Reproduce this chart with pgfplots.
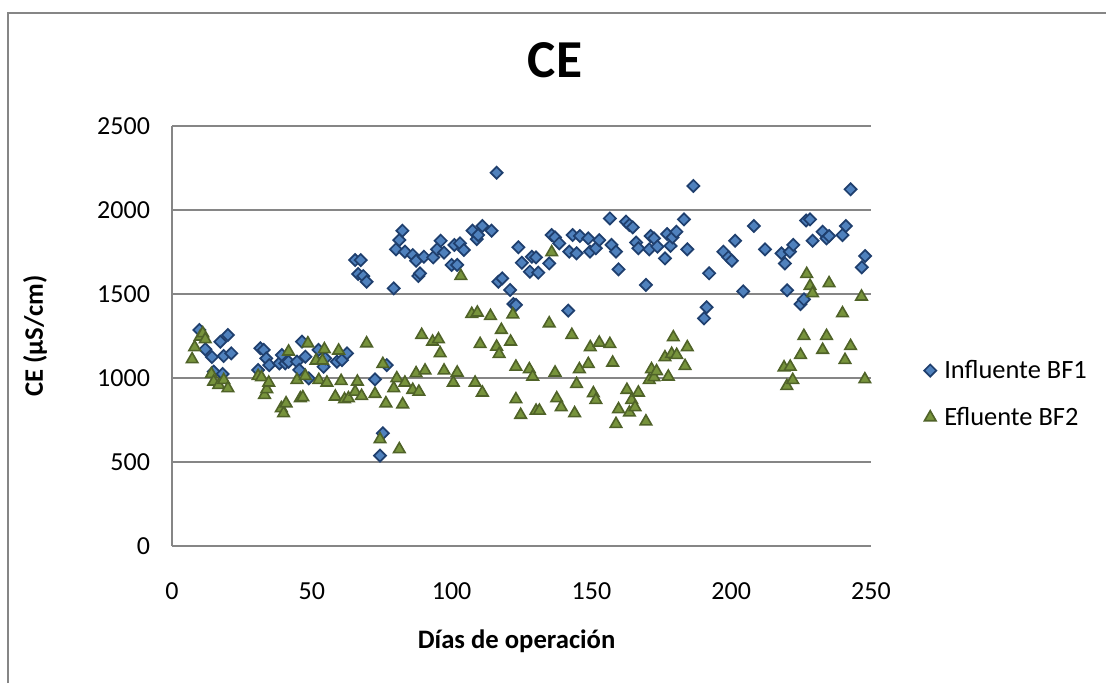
\documentclass[border=0pt]{standalone}
\usepackage{fontspec}
\setmainfont{Carlito}
\usepackage{pgfplots}
\pgfplotsset{compat=1.18}
\definecolor{bfill}{HTML}{4F81BD}
\definecolor{bdraw}{HTML}{1F3F6E}
\definecolor{gfill}{HTML}{77933C}
\definecolor{gdraw}{HTML}{4F6228}
\definecolor{gridc}{HTML}{868686}
\begin{document}
\begin{tikzpicture}[x=0.75pt,y=0.75pt]
\useasboundingbox (0,0) rectangle (1106,683);
\draw[gridc, line width=1.5pt] (8,0) -- (8,670) -- (1106,670);
\begin{axis}[
  at={(129pt,102.75pt)}, anchor=origin,
  scale only axis, width=524.25pt, height=315pt,
  xmin=0, xmax=250, ymin=0, ymax=2500,
  xtick={0,50,...,250}, ytick={0,500,...,2500},
  axis x line*=bottom, axis y line*=left,
  axis line style={gridc, line width=1.2pt},
  major tick length=0pt,
  ymajorgrids, grid style={gridc, line width=1.2pt},
  tick label style={font=\fontsize{19.5}{22}\selectfont},
  /pgf/number format/assume math mode=true,
  /pgf/number format/1000 sep={},
  xticklabel style={yshift=-24pt},
  yticklabel style={xshift=-13pt},
  title={\textbf{CE}}, title style={font=\fontsize{40}{44}\selectfont, at={(axis description cs:0.548,1.138)}, anchor=center},
  xlabel={\textbf{Días de operación}}, xlabel style={font=\fontsize{20}{24}\selectfont, at={(axis description cs:0.493,-0.226)}, anchor=center},
  ylabel={\textbf{CE (µS/cm)}}, ylabel style={font=\fontsize{20}{24}\selectfont, at={(axis description cs:-0.196,0.5)}, anchor=center, rotate=0},
  legend style={draw=none, at={(axis description cs:1.07,0.362)}, anchor=west, font=\fontsize{19.8}{22}\selectfont, row sep=16pt},
  legend cell align=left,
  clip=false,
]
\addplot[only marks, mark=square*, mark size=3.2pt, mark options={rotate=45, fill=bfill, draw=bdraw, line width=1.3pt}] coordinates {
(9.8,1286)(11.9,1171)(14.3,1125)(14.9,1038)(17.3,1216)(18.1,1024)(18.5,1131)(20,1256)(21.2,1147)
(30.8,1048)(31.6,1177)(32.8,1167)(33.7,1117)(34.8,1077)(38.4,1087)(39.3,1137)(40.5,1087)(41.7,1097)
(44.7,1097)(45.5,1048)(46.5,1216)(47.7,1127)(48.9,998)(52.4,1167)(54.2,1067)(54.8,1117)(59,1097)
(60.8,1107)(62.6,1147)(65.5,1702)(66.6,1619)(67.5,1702)(68.4,1607)(69.6,1573)(72.6,992)(74.4,538)
(75.4,671)(76.8,1077)(79.3,1534)(80.1,1766)(81.3,1821)(82.4,1877)(83.3,1752)(86.1,1732)(87.3,1698)
(88.1,1607)(88.7,1623)(90.1,1722)(93.4,1718)(94.8,1766)(96.1,1817)(97.3,1746)(100,1673)(101,1792)
(102,1673)(103,1802)(104.4,1762)(107.5,1877)(109,1827)(109.5,1851)(111,1905)(114.3,1877)(116.1,2222)
(116.7,1573)(118.1,1593)(120.9,1524)(122.1,1440)(123,1435)(123.9,1778)(125.1,1686)(128,1633)
(128.7,1722)(130.2,1718)(131,1627)(134.9,1682)(135.8,1851)(137,1837)(138.5,1802)(141.7,1401)
(142.1,1752)(143.3,1851)(144.7,1742)(145.9,1845)(148.9,1831)(149.5,1752)(151.6,1772)(152.8,1821)
(156.6,1950)(157.2,1792)(158.8,1752)(159.7,1647)(162.4,1931)(163.6,1911)(164.8,1897)(166,1806)
(166.8,1772)(169.5,1554)(170.7,1766)(171.2,1845)(172.4,1831)(173.6,1782)(176.3,1712)(177.1,1857)
(178.3,1786)(179,1837)(180.4,1871)(183.1,1944)(184.3,1766)(186.5,2143)(190.3,1355)(191.2,1421)
(192.1,1623)(197.2,1752)(199,1718)(200.2,1698)(201.4,1817)(204.3,1516)(208.1,1905)(212.1,1766)
(218,1742)(219.2,1682)(220,1522)(221,1752)(222.2,1792)(224.8,1440)(226,1468)(226.8,1938)(228.2,1944)
(229.1,1817)(232.7,1871)(234.1,1831)(235,1845)(239.8,1851)(241,1905)(242.7,2123)(246.7,1659)(247.9,1726)
};
\addlegendentry{\hspace{4pt}Influente BF1}
\addplot[only marks, mark=triangle*, mark size=5pt, mark options={fill=gfill, draw=gdraw, line width=1.2pt}] coordinates {
(7.2,1111)(8.1,1183)(10.1,1246)(11,1266)(11.9,1230)(14.1,1024)(14.9,978)(16.7,958)(18.5,988)(20,939)
(30.8,1012)(32,1004)(33.1,899)(33.9,933)(34.6,972)(39.1,820)(39.9,790)(40.8,849)(41.7,1157)(44.7,988)
(45.9,879)(46.8,885)(47.7,1012)(48.6,1206)(51.5,1103)(52.5,988)(53.8,1103)(54.5,1171)(55.4,972)
(58.4,889)(59.6,1163)(60.5,982)(61.7,873)(63.1,879)(65.5,918)(66.3,978)(67.8,893)(69.6,1206)(72.6,905)
(74.4,635)(75.4,1083)(76.5,849)(79.3,939)(80.4,998)(81.3,576)(82.5,843)(83.3,972)(86.1,929)(87.3,1028)
(88.3,918)(89.3,1256)(90.5,1044)(93.2,1216)(95.3,1230)(95.9,1147)(97.3,1044)(100.6,972)(102,1032)
(103.3,1607)(107.2,1381)(108.4,972)(109.2,1389)(110.2,1202)(111,913)(113.9,1369)(116.1,1186)(117,1143)
(117.8,1286)(121.1,1216)(121.9,1378)(123,1067)(123,873)(124.7,780)(127.8,1052)(129,1008)(130.2,805)
(131.4,805)(134.9,1325)(135.8,1748)(137,1032)(137.6,879)(139.2,826)(143,1256)(144,790)(144.7,964)
(145.7,1052)(148.9,1083)(149.6,1183)(150.7,909)(151.6,869)(152.8,1210)(156.6,1202)(157.6,1091)
(158.8,726)(159.7,814)(162.7,929)(163.6,794)(164.4,869)(165.6,826)(166.8,913)(169.5,741)(170.7,988)
(171.5,1052)(172.4,1004)(173.3,1040)(176.3,1123)(177.5,1008)(178.7,1143)(179.3,1242)(180.5,1137)
(183.5,1071)(184.3,1183)(218.9,1063)(219.9,952)(221.1,1067)(222,988)(224.8,1137)(226,1250)(227,1619)
(228.2,1548)(229.1,1504)(232.7,1167)(234.1,1250)(235,1564)(239.8,1385)(240.7,1107)(242.7,1190)
(246.6,1484)(247.8,992)
};
\addlegendentry{\hspace{4pt}Efluente BF2}
\end{axis}
\end{tikzpicture}
\end{document}
